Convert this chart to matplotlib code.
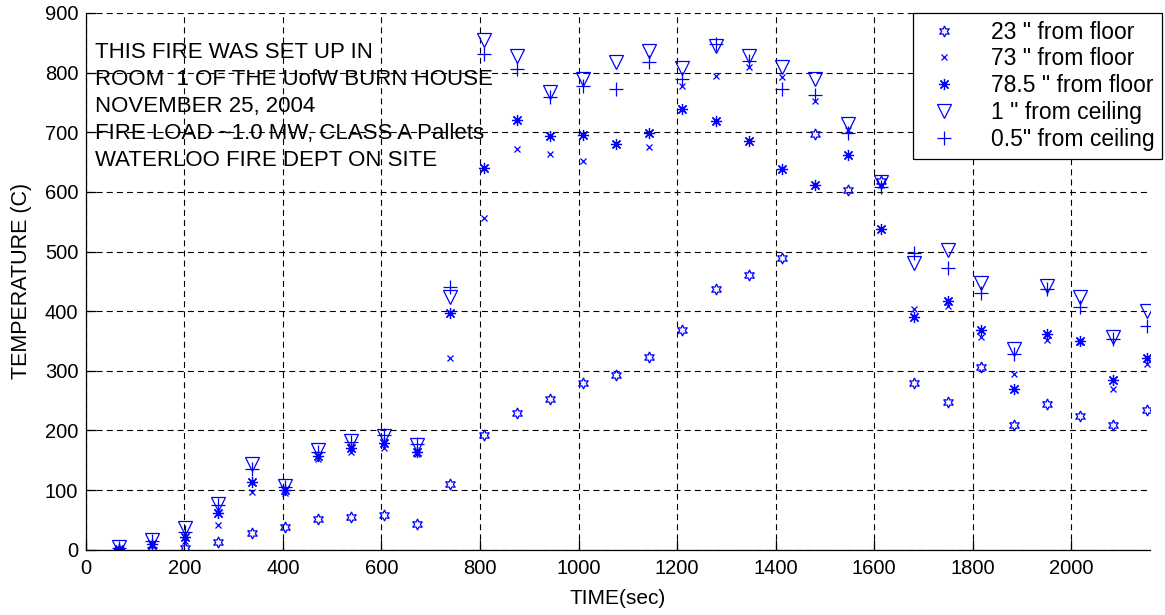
import numpy as np
import matplotlib
matplotlib.use("Agg")
import matplotlib.pyplot as plt

plt.rcParams['font.family'] = ['Liberation Sans', 'DejaVu Sans']
plt.rcParams['lines.scale_dashes'] = False

# Datos
time_s = [67, 135, 202, 269, 337, 404, 471, 538, 606, 673, 740, 808, 875, 942,
          1010, 1077, 1144, 1211, 1279, 1346, 1413, 1481, 1548, 1615, 1682,
          1750, 1817, 1884, 1952, 2019, 2086, 2154]

floor_23 = [0, 0, 3, 13, 28, 38, 52, 55, 58, 44, 110, 192, 229, 252, 279, 293,
            324, 368, 438, 460, 490, 697, 603, 618, 279, 248, 306, 210, 245,
            224, 210, 235]
floor_73 = [0, 8, 15, 41, 97, 95, 153, 164, 170, 160, 321, 557, 672, 664, 652,
            681, 675, 778, 795, 809, 793, 753, 703, 612, 404, 408, 357, 295,
            351, 348, 269, 312]
floor_785 = [2, 10, 22, 61, 114, 100, 157, 170, 179, 164, 397, 640, 721, 693,
             696, 681, 699, 739, 718, 686, 639, 611, 661, 538, 390, 417, 368,
             270, 362, 350, 285, 322]
ceil_1 = [5, 16, 36, 77, 144, 107, 167, 183, 191, 175, 424, 855, 827, 767, 790,
          818, 836, 807, 845, 828, 810, 790, 714, 616, 481, 502, 448, 336, 442,
          423, 356, 401]
ceil_05 = [3, 14, 30, 75, 135, 105, 164, 181, 192, 177, 440, 831, 806, 759, 777,
           773, 817, 790, 848, 820, 773, 762, 698, 608, 498, 472, 430, 329, 438,
           407, 354, 375]

labels = ['23 " from floor', '73 " from floor', '78.5 " from floor',
          '1 " from ceiling', '0.5" from ceiling']

note_lines = ["THIS FIRE WAS SET UP IN",
              "ROOM  1 OF THE UofW BURN HOUSE",
              "NOVEMBER 25, 2004",
              "FIRE LOAD ~1.0 MW, CLASS A Pallets",
              "WATERLOO FIRE DEPT ON SITE"]

x_ticks = np.arange(0, 2001, 200)
y_ticks = np.arange(0, 901, 100)

fig = plt.figure(figsize=(11.65, 6.15), dpi=100)
ax = fig.add_axes([0.0738, 0.106, 0.9132, 0.873])

blue = (0, 0, 1)
series = [
    (floor_23, (6, 1, 0), 8),
    (floor_73, 'x', 5),
    (floor_785, (8, 2, 0), 8),
    (ceil_1, 'v', 10.5),
    (ceil_05, '+', 10.5),
]
for vals, mk, ms in series:
    ax.plot(time_s, vals, linestyle='none', marker=mk, markersize=ms,
            markerfacecolor='none', markeredgecolor=blue, markeredgewidth=0.9)

ax.set_xlim(0, 2160)
ax.set_ylim(0, 900)
ax.set_xticks(x_ticks)
ax.set_yticks(y_ticks)
ax.grid(True, color='black', linestyle=(0, (4.3, 3.0)), linewidth=0.8)
ax.set_axisbelow(True)

for side in ['top', 'right']:
    ax.spines[side].set_visible(False)
for side in ['left', 'bottom']:
    ax.spines[side].set_linewidth(0.9)
ax.tick_params(direction='in', length=7.5, width=0.9, labelsize=14.5,
               top=False, right=False)
ax.tick_params(axis='x', pad=6.5)
ax.tick_params(axis='y', pad=5.5)

ax.set_xlabel('TIME(sec)', fontsize=15, labelpad=8)
ax.set_ylabel('TEMPERATURE (C)', fontsize=15.5, labelpad=9)

ax.text(0.0086, 0.946, "\n".join(note_lines), transform=ax.transAxes,
        fontsize=16, va='top', ha='left', linespacing=1.38, color='black')

leg = ax.legend(labels, loc='upper right', fontsize=16.5,
                bbox_to_anchor=(1162 / 1165, 1 - 13 / 615),
                bbox_transform=fig.transFigure, borderaxespad=0,
                fancybox=False, framealpha=1, edgecolor='black',
                handlelength=2.05, handletextpad=1.0, labelspacing=0.17,
                borderpad=0.33)
leg.get_frame().set_linewidth(0.9)

fig.savefig('out.png', dpi=100)
